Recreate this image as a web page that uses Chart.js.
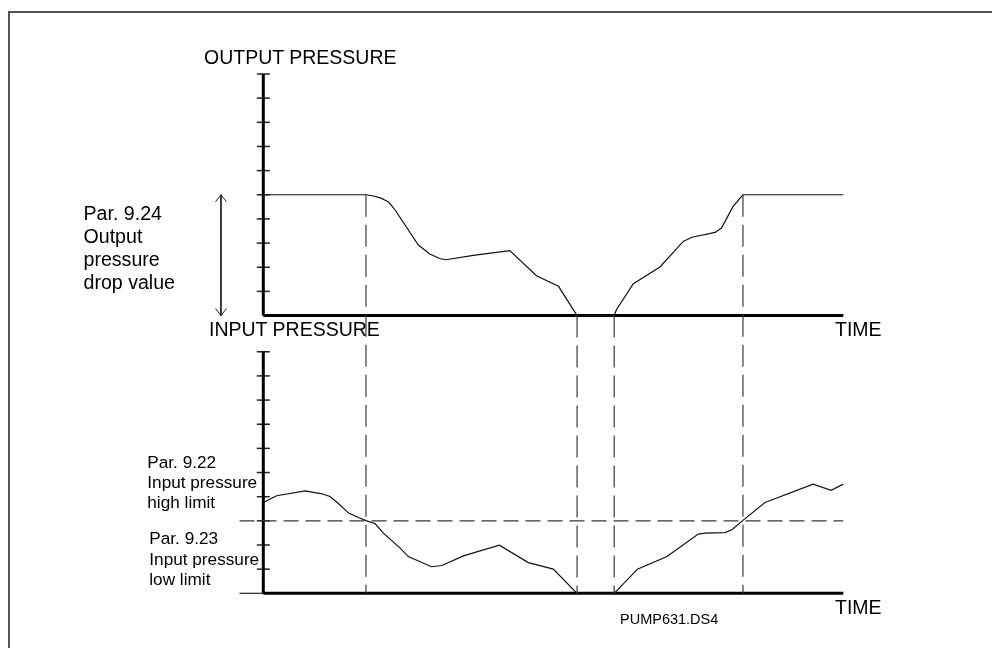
<!DOCTYPE html>
<html>
<head>
<meta charset="utf-8">
<title>Output / input pressure vs time</title>
<script src="https://cdn.jsdelivr.net/npm/chart.js@4.4.1/dist/chart.umd.min.js"></script>
<style>
  html, body { margin: 0; padding: 0; background: #fff; }
  #wrap { position: relative; width: 992px; height: 648px; overflow: hidden;
          font-family: "Liberation Sans", Arial, Helvetica, sans-serif; color: #000; }
  #frame { position: absolute; left: 8px; top: 11px; width: 1100px; height: 800px;
           border-left: 2px solid #555; border-top: 2px solid #555; }
  #pressureChart { position: absolute; left: 0; top: 0; }
  .lbl { position: absolute; white-space: nowrap; line-height: 1; }
</style>
</head>
<body>
<div id="wrap">
  <div id="frame"></div>
  <canvas id="pressureChart" width="992" height="648"></canvas>
  <div id="labels"></div>
</div>
<script>
// time runs 0..100 on both panels, each pressure axis has 10 tick steps
const timeMarks = [17.7, 54.1, 60.5, 82.7];   // dashed event lines
const dropLevel = 5;      // Par. 9.24 output pressure level
const limitLevel = 3;     // Par. 9.22 / 9.23 input pressure limit
const tickValues = [1, 2, 3, 4, 5, 6, 7, 8, 9, 10];
const axisMax = 10;
const upperBase = 11.5;   // upper panel sits above the lower one on a shared scale
const leftStub = -4.1;    // where the limit line and lower baseline start left of the axis
const arrowTime = -7.3;

const outputTime = [0, 17.7, 19.0, 20.3, 21.6, 22.7, 26.7, 28.7, 30.4, 31.5, 36.2, 42.5, 47.1, 50.9, 54.1,
                    60.5, 60.9, 63.8, 68.4, 72.4, 73.9, 77.9, 79.0, 81.0, 82.7, 100];
const outputPressure = [5, 5, 4.95, 4.86, 4.7, 4.38, 2.93, 2.55, 2.36, 2.31, 2.49, 2.69, 1.65, 1.21, 0,
                        0, 0.25, 1.32, 2.01, 3.07, 3.24, 3.44, 3.62, 4.52, 5, 5];

const inputTime = [0, 2.3, 7.2, 10.1, 11.5, 12.9, 14.7, 16.7, 17.7, 19.3, 20.7, 23.6, 25.0, 29.0, 30.8,
                   34.5, 40.7, 45.7, 50.0, 54.1, 60.5, 64.5, 69.6, 75.0, 76.2, 79.6, 80.8, 82.8, 86.5,
                   94.8, 97.9, 100];
const inputPressure = [3.76, 4.04, 4.24, 4.12, 4.01, 3.73, 3.32, 3.11, 3.01, 2.88, 2.49, 1.87, 1.52, 1.10, 1.15,
                       1.55, 1.99, 1.27, 1.0, 0, 0, 1.0, 1.52, 2.45, 2.49, 2.51, 2.63, 3.04, 3.76,
                       4.52, 4.26, 4.52];

const labels = [
  { text: 'OUTPUT PRESSURE', x: 204, base: 64.5, size: 19.5 },
  { text: 'INPUT PRESSURE', x: 209, base: 336.5, size: 19.5 },
  { text: 'TIME', x: 835, base: 336.5, size: 19.5 },
  { text: 'TIME', x: 835, base: 614.3, size: 19.5 },
  { text: 'PUMP631.DS4', x: 620, base: 624, size: 14.5 },
  { text: 'Par. 9.24', x: 83.5, base: 220.7, size: 19.6 },
  { text: 'Output', x: 83.5, base: 244, size: 19.6 },
  { text: 'pressure', x: 83.5, base: 266.5, size: 19.6 },
  { text: 'drop value', x: 83.5, base: 289.5, size: 19.6 },
  { text: 'Par. 9.22', x: 147.3, base: 468.3, size: 17.2 },
  { text: 'Input pressure', x: 147.3, base: 488.3, size: 17.2 },
  { text: 'high limit', x: 147.3, base: 508.3, size: 17.2 },
  { text: 'Par. 9.23', x: 149.3, base: 545, size: 17.2 },
  { text: 'Input pressure', x: 149.3, base: 565.5, size: 17.2 },
  { text: 'low limit', x: 149.3, base: 586, size: 17.2 }
];

function renderLabels() {
  const box = document.getElementById('labels');
  labels.forEach(l => {
    const d = document.createElement('div');
    d.className = 'lbl';
    d.textContent = l.text;
    d.style.left = l.x + 'px';
    d.style.top = (l.base - 0.8465 * l.size) + 'px';
    d.style.fontSize = l.size + 'px';
    box.appendChild(d);
  });
}

const pts = (xs, ys, shift) => xs.map((x, i) => ({ x: x, y: ys[i] + shift }));
const seg = (x1, y1, x2, y2) => [{ x: x1, y: y1 }, { x: x2, y: y2 }];

function solid(data, width, color) {
  return { data: data, borderColor: color, borderWidth: width, pointRadius: 0, tension: 0, clip: false };
}
function dashed(data, dash) {
  return { data: data, borderColor: '#3a3a3a', borderWidth: 1.2, borderDash: dash, pointRadius: 0, clip: false };
}

// open V heads on the Par. 9.24 arrow
const arrowHeads = {
  id: 'arrowHeads',
  afterDatasetsDraw(chart) {
    chart.data.datasets.forEach((ds, i) => {
      if (!ds.arrow) return;
      const p = chart.getDatasetMeta(i).data;
      const ctx = chart.ctx;
      ctx.save();
      ctx.strokeStyle = ds.borderColor;
      ctx.lineWidth = ds.borderWidth;
      [[p[0], 1], [p[p.length - 1], -1]].forEach(([pt, dir]) => {
        ctx.beginPath();
        ctx.moveTo(pt.x - 5.5, pt.y + dir * 7);
        ctx.lineTo(pt.x, pt.y);
        ctx.lineTo(pt.x + 5.5, pt.y + dir * 7);
        ctx.stroke();
      });
      ctx.restore();
    });
  }
};

function renderChart() {
  const top = upperBase + axisMax;
  const datasets = [];

  // event lines
  timeMarks.forEach((t, i) => {
    const start = (i === 0 || i === 3) ? upperBase + dropLevel : upperBase;
    datasets.push(dashed(seg(t, start, t, 0), [22, 8]));
  });
  // input pressure limit
  datasets.push(dashed(seg(leftStub, limitLevel, 100, limitLevel), [15, 7]));

  // curves
  datasets.push(solid(pts(outputTime, outputPressure, upperBase), 1.2, '#111'));
  datasets.push(solid(pts(inputTime, inputPressure, 0), 1.2, '#111'));

  // axes
  datasets.push(solid(seg(0, upperBase, 0, top), 3, '#000'));
  datasets.push(solid(seg(0, upperBase, 100, upperBase), 3, '#000'));
  datasets.push(solid(seg(0, 0, 0, axisMax), 3, '#000'));
  datasets.push(solid(seg(0, 0, 100, 0), 3, '#000'));
  datasets.push(solid(seg(leftStub, 0, 0, 0), 1.2, '#222'));

  // tick marks crossing the y axes
  const ticks = tickValues.map(v => ({ x: 0, y: v }))
    .concat(tickValues.map(v => ({ x: 0, y: v + upperBase })));
  datasets.push({ data: ticks, showLine: false, pointStyle: 'line', pointRadius: 6.5,
                  pointBorderWidth: 1.5, pointBorderColor: '#222', clip: false });

  // drop value arrow
  const arrow = solid(seg(arrowTime, upperBase + dropLevel, arrowTime, upperBase), 1, '#222');
  arrow.arrow = true;
  datasets.push(arrow);

  new Chart(document.getElementById('pressureChart').getContext('2d'), {
    type: 'line',
    data: { datasets: datasets },
    options: {
      responsive: false,
      animation: false,
      devicePixelRatio: 1,
      events: [],
      layout: { padding: { left: 263.3, right: 148.7, top: 74, bottom: 54.7 } },
      scales: {
        x: { type: 'linear', min: 0, max: 100, display: false },
        y: { type: 'linear', min: 0, max: top, display: false }
      },
      plugins: { legend: { display: false }, tooltip: { enabled: false } }
    },
    plugins: [arrowHeads]
  });
}

document.addEventListener('DOMContentLoaded', () => {
  renderLabels();
  renderChart();
});
</script>
</body>
</html>
